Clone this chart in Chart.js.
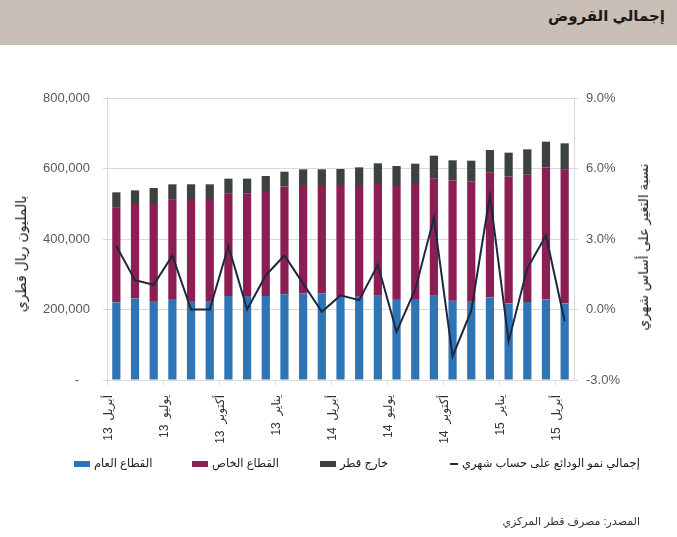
<!DOCTYPE html>
<html>
<head>
<meta charset="utf-8">
<script src="https://cdn.jsdelivr.net/npm/chart.js@4.4.1/dist/chart.umd.min.js"></script>
<style>
  body { margin: 0; background: #fff; font-family: 'Liberation Sans', 'DejaVu Sans', sans-serif; }
  #wrap { position: relative; width: 677px; height: 537px; overflow: hidden; }
  #header { position: absolute; left: 0; top: 0; width: 677px; height: 45px; background: #c9bfb6; }
  #title { position: absolute; right: 12px; top: 7px; font-size: 15px; font-weight: bold; color: #1a1a1a; direction: rtl; }
  #chartBox { position: absolute; left: 0; top: 0; width: 677px; height: 537px; }
  .axisTitle { position: absolute; font-size: 14px; color: #1a1a1a; direction: rtl; white-space: nowrap; transform: translate(-50%, -50%) rotate(-90deg); }
  #legend { position: absolute; top: 456px; left: 0; width: 677px; height: 18px; font-size: 11.5px; color: #1a1a1a; }
  .item { position: absolute; top: 0; white-space: nowrap; direction: rtl; }
  .sw { position: absolute; top: 5px; width: 16px; height: 6px; }
  #source { position: absolute; right: 37px; top: 515px; font-size: 11px; color: #333; direction: rtl; }
</style>
</head>
<body>
<div id="wrap">
  <div id="header"><div id="title">إجمالي القروض</div></div>
  <div id="chartBox"><canvas id="loansChart"></canvas></div>
  <div class="axisTitle" style="left:21px; top:254px;">بالمليون ريال قطري</div>
  <div class="axisTitle" style="left:643px; top:247px; font-size:13.5px;">نسبة التغير على أساس شهري</div>
  <div id="legend"></div>
  <div id="source">المصدر: مصرف قطر المركزي</div>
</div>
<script>
const BLUE = '#2f75b5';
const MAROON = '#8b1e52';
const DARK = '#3c4240';
const LINE = '#1e2740';
const GRID = '#d9d9d9';

const months = [
    'أبريل 13', 'مايو 13', 'يونيو 13', 'يوليو 13', 'أغسطس 13', 'سبتمبر 13',
    'أكتوبر 13', 'نوفمبر 13', 'ديسمبر 13', 'يناير 13', 'فبراير 14', 'مارس 14',
    'أبريل 14', 'مايو 14', 'يونيو 14', 'يوليو 14', 'أغسطس 14', 'سبتمبر 14',
    'أكتوبر 14', 'نوفمبر 14', 'ديسمبر 14', 'يناير 15', 'فبراير 15', 'مارس 15', 'أبريل 15'
];

// millions QAR
const publicSector = [220300, 231700, 224100, 229800, 224100, 222200, 238300, 238300, 238300, 243000, 245900, 245900,
    236400, 236400, 239200, 229800, 229800, 239200, 225100, 222200, 234500, 217500, 221300, 228800, 217500];
const privateSector = [269500, 267600, 275200, 282700, 286500, 288400, 291200, 291200, 297900, 305500, 307300, 304500,
    316800, 314000, 316800, 320600, 326200, 332900, 340400, 340400, 354600, 359300, 362100, 373600, 380100];
const outsideQatar = [42600, 38700, 45400, 42600, 44600, 44500, 41700, 41700, 42500, 42500, 44400, 47200,
    45400, 52900, 58700, 56700, 57700, 64300, 57700, 59600, 63400, 68100, 71000, 73700, 73800];
// monthly change, %
const monthlyGrowth = [2.7, 1.25, 1.05, 2.3, 0.0, 0.0, 2.7, 0.0, 1.45, 2.3, 1.1, -0.1,
    0.6, 0.4, 1.9, -0.95, 0.85, 3.9, -2.0, -0.05, 4.85, -1.35, 1.75, 3.15, -0.5];

const seriesNames = ['القطاع العام', 'القطاع الخاص', 'خارج قطر', 'إجمالي نمو الودائع على حساب شهري'];

const leftTicks = [0, 200000, 400000, 600000, 800000];
const rightTicks = [-3, 0, 3, 6, 9];

const FONT_FAMILY = "'Liberation Sans', 'DejaVu Sans', sans-serif";

function buildLegend() {
    // positions follow the reference legend row
    const items = [
        { name: seriesNames[0], color: BLUE, box: 74, text: 94, h: 6 },
        { name: seriesNames[1], color: MAROON, box: 192, text: 212, h: 6 },
        { name: seriesNames[2], color: DARK, box: 320, text: 340, h: 6 },
        { name: seriesNames[3], color: LINE, box: 450, text: 462, h: 2, w: 8 }
    ];
    const legend = document.getElementById('legend');
    items.forEach(it => {
        const sw = document.createElement('div');
        sw.className = 'sw';
        sw.style.left = it.box + 'px';
        sw.style.background = it.color;
        sw.style.height = it.h + 'px';
        if (it.w) sw.style.width = it.w + 'px';
        if (it.h === 2) sw.style.top = '7px';
        legend.appendChild(sw);
        const t = document.createElement('div');
        t.className = 'item';
        t.style.left = it.text + 'px';
        t.textContent = it.name;
        legend.appendChild(t);
    });
}

function initChart() {
    const ctx = document.getElementById('loansChart').getContext('2d');
    new Chart(ctx, {
        data: {
            labels: months,
            datasets: [
                {
                    type: 'line',
                    label: seriesNames[3],
                    data: monthlyGrowth,
                    yAxisID: 'y1',
                    borderColor: LINE,
                    borderWidth: 2,
                    pointRadius: 0,
                    tension: 0,
                    order: 0
                },
                { type: 'bar', label: seriesNames[0], data: publicSector, backgroundColor: BLUE, order: 1, yAxisID: 'y' },
                { type: 'bar', label: seriesNames[1], data: privateSector, backgroundColor: MAROON, order: 1, yAxisID: 'y' },
                { type: 'bar', label: seriesNames[2], data: outsideQatar, backgroundColor: DARK, order: 1, yAxisID: 'y' }
            ]
        },
        options: {
            responsive: true,
            maintainAspectRatio: false,
            animation: false,
            layout: { padding: { top: 98, left: 0, right: 0, bottom: 0 } },
            datasets: { bar: { barPercentage: 0.44, categoryPercentage: 1 } },
            plugins: { legend: { display: false }, tooltip: { enabled: false } },
            scales: {
                x: {
                    stacked: true,
                    offset: true,
                    afterFit: s => { s.height = 157; },
                    border: { color: GRID },
                    grid: {
                        offset: true,
                        drawOnChartArea: false,
                        tickLength: 5,
                        color: c => (c.index % 3 === 0 ? GRID : 'rgba(0,0,0,0)')
                    },
                    ticks: {
                        autoSkip: false,
                        minRotation: 90,
                        maxRotation: 90,
                        padding: 10,
                        labelOffset: -8,
                        color: '#333',
                        font: { family: FONT_FAMILY, size: 12 },
                        callback: (v, i) => (i % 3 === 0 ? '\u202B' + months[i].replace(' ', '  ') + '\u202C' : '')
                    }
                },
                y: {
                    stacked: true,
                    position: 'left',
                    min: leftTicks[0],
                    max: leftTicks[leftTicks.length - 1],
                    afterFit: s => { s.width = 107; },
                    afterBuildTicks: s => { s.ticks = leftTicks.map(v => ({ value: v })); },
                    border: { color: GRID },
                    grid: { color: GRID, tickLength: 4 },
                    ticks: {
                        padding: 13,
                        color: '#595959',
                        font: { family: FONT_FAMILY, size: 13 },
                        callback: v => (v === 0 ? '-   ' : v.toLocaleString('en-US'))
                    }
                },
                y1: {
                    position: 'right',
                    stacked: false,
                    min: rightTicks[0],
                    max: rightTicks[rightTicks.length - 1],
                    afterFit: s => { s.width = 103; },
                    afterBuildTicks: s => { s.ticks = rightTicks.map(v => ({ value: v })); },
                    border: { color: GRID },
                    grid: { drawOnChartArea: false, color: GRID, tickLength: 4 },
                    ticks: {
                        padding: 8,
                        color: '#595959',
                        font: { family: FONT_FAMILY, size: 13 },
                        callback: v => v.toFixed(1) + '%'
                    }
                }
            }
        }
    });
}

buildLegend();
initChart();
</script>
</body>
</html>
